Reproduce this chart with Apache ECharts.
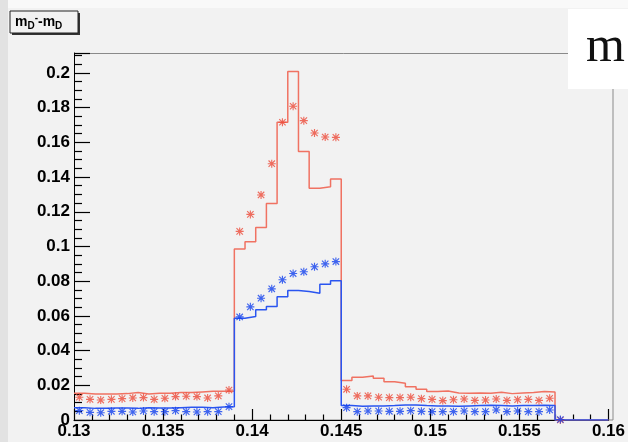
<!DOCTYPE html>
<html><head><meta charset="utf-8">
<script src="https://cdn.jsdelivr.net/npm/echarts@6/dist/echarts.min.js"></script>
<style>html,body{margin:0;padding:0;background:#f2f2f2}#c{width:628px;height:442px}</style>
</head><body><div id="c"></div>
<script>
// ---- binning ----
const xLow = 0.13, binWidth = 0.0006;
// ---- tick labels ----
const xTickLabels = ['0.13','0.135','0.14','0.145','0.15','0.155','0.16'];
const yTickLabels = ['0','0.02','0.04','0.06','0.08','0.1','0.12','0.14','0.16','0.18','0.2'];
// ---- series values (per bin) ----
const redHist = [
 0.0154,0.0150,0.0150,0.0150,0.0152,0.0158,0.0150,0.0154,0.0154,0.0158,0.0158,0.0162,0.0166,0.0166,0.0166,
 0.0985,0.1027,0.1110,0.1248,0.1716,0.2008,0.1548,0.1335,0.1344,0.1389,
 0.0227,0.0246,0.0254,0.0240,0.0221,0.0212,0.0192,0.0177,0.0164,0.0167,0.0156,0.0154,0.0156,0.0154,0.0160,0.0152,0.0156,0.0158,0.0164,0.0162,
 0,0,0,0,0];
const blueHist = [
 0.0071,0.0067,0.0067,0.0069,0.0069,0.0067,0.0071,0.0069,0.0069,0.0071,0.0073,0.0073,0.0071,0.0075,0.0077,
 0.0587,0.0596,0.0635,0.0654,0.0711,0.0746,0.0740,0.0731,0.0783,0.0802,
 0.0083,0.0079,0.0081,0.0081,0.0083,0.0087,0.0087,0.0083,0.0081,0.0081,0.0079,0.0081,0.0083,0.0085,0.0083,0.0081,0.0083,0.0083,0.0085,0.0083,
 0,0,0,0,0];
const redPoints = [
 0.0131,0.0119,0.0115,0.0119,0.0123,0.0127,0.0129,0.0119,0.0125,0.0135,0.0137,0.0135,0.0127,0.0139,0.0173,
 0.1087,0.1185,0.1297,0.1477,0.1716,0.1808,0.1725,0.1654,0.1631,0.1629,
 0.0177,0.0139,0.0139,0.0131,0.0129,0.0129,0.0131,0.0123,0.0119,0.0112,0.0117,0.0121,0.0113,0.0115,0.0121,0.0113,0.0117,0.0119,0.0113,0.0125,
 0];
const bluePoints = [
 0.0054,0.0044,0.0042,0.0050,0.0050,0.0046,0.0052,0.0048,0.0048,0.0054,0.0048,0.0046,0.0048,0.0048,0.0077,
 0.0594,0.0652,0.0702,0.0756,0.0808,0.0844,0.0854,0.0883,0.0900,0.0913,
 0.0071,0.0048,0.0052,0.0052,0.0050,0.0050,0.0054,0.0050,0.0048,0.0048,0.0048,0.0052,0.0048,0.0048,0.0058,0.0048,0.0052,0.0048,0.0048,0.0058,
 0.0003];

function stepData(vals){
  const d = [];
  vals.forEach((v,i)=>{ const lo = xLow + i*binWidth; d.push([lo, v], [lo + binWidth, v]); });
  return d;
}
function pointData(vals){ return vals.map((v,i)=>[xLow + (i+0.5)*binWidth, v]); }

const star = 'path://M0 4.3L10 4.3L10 5.7L0 5.7Z M4.3 0L5.7 0L5.7 10L4.3 10Z M0.5 1.5L1.5 0.5L9.5 8.5L8.5 9.5Z M8.5 0.5L9.5 1.5L1.5 9.5L0.5 8.5Z';
const FONT = 'Liberation Sans, Arial, sans-serif';
const yMax = 0.2115;

const chart = echarts.init(document.getElementById('c'));
chart.setOption({
  backgroundColor: '#f2f2f2',
  animation: false,
  grid: {left:74, right:15, top:53, bottom:22},
  xAxis: {
    type:'value', min:0.13, max:0.16, interval:0.005,
    axisLine:{show:true, onZero:false, lineStyle:{color:'#000', width:1}},
    axisTick:{show:true, inside:true, length:11, lineStyle:{color:'#000', width:1.2}},
    minorTick:{show:true, splitNumber:5, length:5.5, lineStyle:{color:'#000', width:1.2}},
    splitLine:{show:false}, minorSplitLine:{show:false},
    axisLabel:{margin:3, color:'#000', fontSize:17, fontWeight:'bold', fontFamily:FONT}
  },
  yAxis: {
    type:'value', min:0, max:yMax, interval:0.02,
    axisLine:{show:true, onZero:false, lineStyle:{color:'#000', width:1}},
    axisTick:{show:true, inside:true, length:16, lineStyle:{color:'#000', width:1.2}},
    minorTick:{show:true, splitNumber:4, length:8, lineStyle:{color:'#000', width:1.2}},
    splitLine:{show:false}, minorSplitLine:{show:false},
    axisLabel:{margin:4, color:'#000', fontSize:17, fontWeight:'bold', fontFamily:FONT, showMaxLabel:false}
  },
  series: [
    {type:'line', data: stepData(redHist), showSymbol:false, symbol:'none', lineStyle:{color:'#f07262', width:1.5}, z:2},
    {type:'line', data: stepData(blueHist), showSymbol:false, symbol:'none', lineStyle:{color:'#2a55f0', width:1.5}, z:3},
    {type:'scatter', data: pointData(redPoints), symbol: star, symbolSize:8, itemStyle:{color:'#ec4a38'}, z:4},
    {type:'scatter', data: pointData(bluePoints), symbol: star, symbolSize:8, itemStyle:{color:'#1240ee'}, z:5}
  ],
  graphic: [
    {type:'rect', left:0, top:0, shape:{width:628, height:8}, style:{fill:'#f9f9f9'}, silent:true, z:-1},
    {type:'rect', left:0, top:0, shape:{width:8, height:442}, style:{fill:'#e2e2e2'}, silent:true, z:-1},
    {type:'rect', shape:{x:74.5, y:53.5, width:538.5, height:366.5}, style:{fill:'none', stroke:'#8a8a8a', lineWidth:1}, silent:true, z:-1},
    {type:'rect', shape:{x:12, y:13, width:68, height:22}, style:{fill:'#333'}, silent:true, z:10},
    {type:'rect', shape:{x:10, y:11, width:68, height:22}, style:{fill:'#f2f2f2', stroke:'#222', lineWidth:1}, silent:true, z:11},
    {type:'text', x:15, y:22, z:12, silent:true,
      style:{text:'{t|m}{s|D}{p|-}{t|-m}{s|D}', verticalAlign:'middle',
        rich:{ t:{fontSize:14, fontWeight:'bold', fontFamily:FONT, fill:'#000'},
               s:{fontSize:10, fontWeight:'bold', fontFamily:FONT, fill:'#000', padding:[9,0,0,0]},
               p:{fontSize:10, fontWeight:'bold', fontFamily:FONT, fill:'#000', padding:[0,0,8,0]} }}},
    {type:'rect', shape:{x:568, y:9, width:60, height:80}, style:{fill:'#ffffff'}, silent:true, z:20},
    {type:'text', x:586, y:48, z:21, silent:true,
      style:{text:'m', fontSize:50, fontFamily:'Liberation Serif, DejaVu Serif, serif', fill:'#111', verticalAlign:'middle'}}
  ]
});
</script></body></html>
